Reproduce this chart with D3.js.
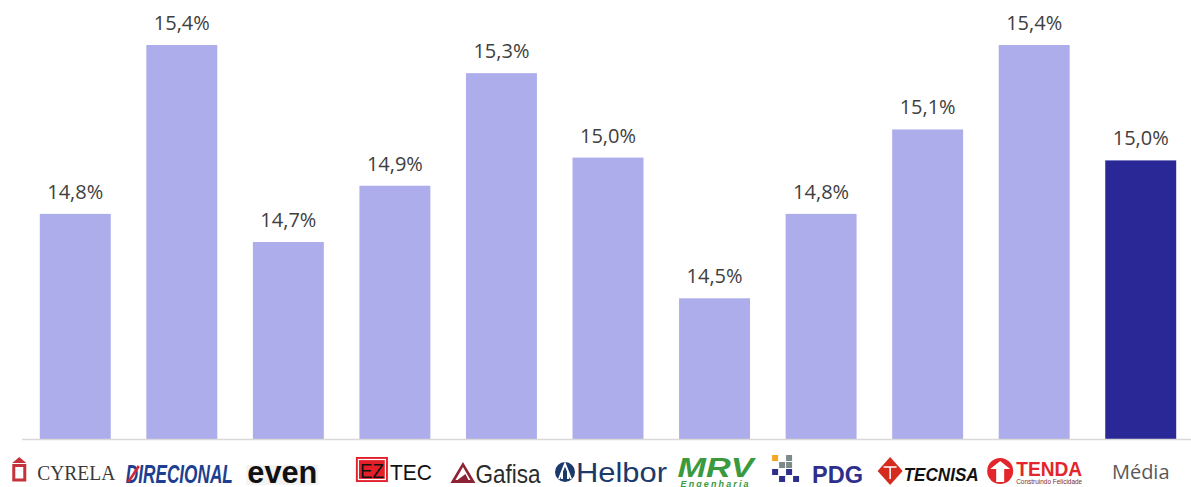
<!DOCTYPE html>
<html>
<head>
<meta charset="utf-8">
<script src="https://cdn.jsdelivr.net/npm/d3@7"></script>
<style>
  html, body { margin: 0; padding: 0; background: #fff; }
  svg { display: block; }
</style>
</head>
<body>
<div id="chart"></div>
<script>
// Data
const categories = ["Cyrela", "Direcional", "Even", "EZTec", "Gafisa", "Helbor", "MRV", "PDG", "Tecnisa", "Tenda", "Média"];
const values = [14.8, 15.4, 14.7, 14.9, 15.3, 15.0, 14.5, 14.8, 15.1, 15.4, 14.99];
const highlight = ["Média"];

const width = 1191;
const height = 487;

const svg = d3.select("#chart")
    .append("svg")
    .attr("width", width)
    .attr("height", height);

// Scales (axis starts at 14%, not zero)
const x = d3.scaleBand()
    .domain(categories)
    .range([22, 1194])
    .paddingInner(0.334)
    .paddingOuter(0.167);

const y = d3.scaleLinear()
    .domain([14, 15.56])
    .range([439, 0]);

const fmt = v => d3.format(".1f")(v).replace(".", ",") + "%";

// Bars
svg.selectAll("rect.bar")
    .data(values)
    .enter()
    .append("rect")
    .attr("class", "bar")
    .attr("x", (d, i) => x(categories[i]))
    .attr("width", x.bandwidth())
    .attr("y", d => y(d))
    .attr("height", d => y(14) - y(d))
    .attr("fill", (d, i) => highlight.includes(categories[i]) ? "#2A2896" : "#ADADEB");

// Value labels
svg.selectAll("text.val")
    .data(values)
    .enter()
    .append("text")
    .attr("class", "val")
    .attr("x", (d, i) => x(categories[i]) + x.bandwidth() / 2)
    .attr("y", d => y(d) - 15)
    .attr("text-anchor", "middle")
    .style("font-family", "'Open Sans', sans-serif")
    .style("font-size", "20px")
    .attr("fill", "#404040")
    .text(d => fmt(d));

// Axis line
svg.append("line")
    .attr("x1", 22).attr("x2", width)
    .attr("y1", 439.5).attr("y2", 439.5)
    .attr("stroke", "#D9D9D9")
    .attr("stroke-width", 1.5);

// Category "logos" drawn as simple shapes + text
const logos = {
    "Cyrela": g => {
        g.append("path").attr("d", "M-63,463 L-56,457 L-49,463 Z").attr("fill", "#C7323A");
        g.append("rect").attr("x", -61.5).attr("y", 465.5).attr("width", 11).attr("height", 14.5)
            .attr("fill", "none").attr("stroke", "#C7323A").attr("stroke-width", 3);
        g.append("text").attr("x", -38).attr("y", 480)
            .style("font-family", "'Liberation Serif', serif").style("font-size", "20px")
            .attr("fill", "#3a3a3a").attr("textLength", 78).attr("lengthAdjust", "spacingAndGlyphs")
            .text("CYRELA");
    },
    "Direcional": g => {
        g.append("text").attr("x", -56).attr("y", 483)
            .style("font-family", "'Liberation Sans', sans-serif").style("font-size", "25px")
            .style("font-weight", "bold").style("font-style", "italic")
            .attr("fill", "#1E3F8F").attr("textLength", 107).attr("lengthAdjust", "spacingAndGlyphs")
            .text("DIRECIONAL");
        g.append("path").attr("d", "M-55,482 L-44,465 L-42,467 L-52,482 Z").attr("fill", "#D3283A");
    },
    "Even": g => {
        g.append("rect").attr("x", -42).attr("y", 465).attr("width", 72).attr("height", 20).attr("fill", "#F3F3F3");
        g.append("text").attr("x", -41).attr("y", 483)
            .style("font-family", "'Liberation Sans', sans-serif").style("font-size", "32px")
            .style("font-weight", "bold")
            .attr("fill", "#111").attr("textLength", 70).attr("lengthAdjust", "spacingAndGlyphs")
            .text("even");
    },
    "EZTec": g => {
        g.append("rect").attr("x", -39).attr("y", 457).attr("width", 32).attr("height", 25).attr("fill", "#E3202A");
        g.append("rect").attr("x", -36.5).attr("y", 459.5).attr("width", 27).attr("height", 20)
            .attr("fill", "#E3202A").attr("stroke", "#fff").attr("stroke-width", 1.2);
        g.append("text").attr("x", -35).attr("y", 478)
            .style("font-family", "'Liberation Sans', sans-serif").style("font-size", "21px")
            .attr("fill", "#111").attr("textLength", 24).attr("lengthAdjust", "spacingAndGlyphs")
            .text("EZ");
        g.append("text").attr("x", -5).attr("y", 480)
            .style("font-family", "'Liberation Sans', sans-serif").style("font-size", "22px")
            .attr("fill", "#111").attr("textLength", 42).attr("lengthAdjust", "spacingAndGlyphs")
            .text("TEC");
    },
    "Gafisa": g => {
        g.append("path").attr("d", "M-51,483 L-38.5,462 L-26,483 Z M-46,480 L-31,480 L-38.5,467 Z")
            .attr("fill", "#8E2236").attr("fill-rule", "evenodd");
        g.append("path").attr("d", "M-44,480 L-36,474 L-33,480 Z").attr("fill", "#8E2236");
        g.append("text").attr("x", -26).attr("y", 483)
            .style("font-family", "'Liberation Sans', sans-serif").style("font-size", "26px")
            .attr("fill", "#2b2b2b").attr("textLength", 65).attr("lengthAdjust", "spacingAndGlyphs")
            .text("Gafisa");
    },
    "Helbor": g => {
        g.append("circle").attr("cx", -43).attr("cy", 472).attr("r", 10).attr("fill", "#1B3A6B");
        g.append("path").attr("d", "M-49,479 L-43,464 L-37,479 M-46,479 L-46,472 M-40,479 L-40,472")
            .attr("stroke", "#fff").attr("stroke-width", 2).attr("fill", "none");
        g.append("text").attr("x", -32).attr("y", 482)
            .style("font-family", "'Liberation Sans', sans-serif").style("font-size", "28px")
            .attr("fill", "#1B3A6B").attr("textLength", 91).attr("lengthAdjust", "spacingAndGlyphs")
            .text("Helbor");
    },
    "MRV": g => {
        g.append("text").attr("x", -37).attr("y", 477)
            .style("font-family", "'Liberation Sans', sans-serif").style("font-size", "27px")
            .style("font-weight", "bold").style("font-style", "italic")
            .attr("fill", "#3A9A3E").attr("textLength", 76).attr("lengthAdjust", "spacingAndGlyphs")
            .text("MRV");
        g.append("text").attr("x", -34).attr("y", 487)
            .style("font-family", "'Liberation Sans', sans-serif").style("font-size", "9px")
            .style("font-weight", "bold").style("font-style", "italic")
            .attr("fill", "#3A9A3E").attr("textLength", 68).attr("lengthAdjust", "spacing")
            .text("Engenharia");
    },
    "PDG": g => {
        const cells = [[0, 0, "#F5A623"], [2, 0, "#7C8A8A"], [1, 1, "#7C8A8A"], [2, 1, "#7C8A8A"],
                       [0, 2, "#2E2F8C"], [2, 2, "#2E2F8C"], [1, 3, "#2E2F8C"], [3, 3, "#2E2F8C"]];
        g.selectAll("rect.cell").data(cells).enter().append("rect")
            .attr("x", d => -49 + d[0] * 7).attr("y", d => 455 + d[1] * 7)
            .attr("width", 6).attr("height", 6).attr("fill", d => d[2]);
        g.append("text").attr("x", -9).attr("y", 483)
            .style("font-family", "'Liberation Sans', sans-serif").style("font-size", "24px")
            .style("font-weight", "bold")
            .attr("fill", "#2E2F8C").attr("textLength", 51).attr("lengthAdjust", "spacingAndGlyphs")
            .text("PDG");
    },
    "Tecnisa": g => {
        g.append("path").attr("d", "M-50,471 L-37.5,457 L-25,471 L-37.5,485 Z").attr("fill", "#D52B1E");
        g.append("path").attr("d", "M-44,467 L-31,467 M-37.5,467 L-37.5,479")
            .attr("stroke", "#fff").attr("stroke-width", 1.5).attr("fill", "none");
        g.append("text").attr("x", -24).attr("y", 481)
            .style("font-family", "'Liberation Sans', sans-serif").style("font-size", "19px")
            .style("font-style", "italic").style("font-weight", "bold")
            .attr("fill", "#111").attr("textLength", 75).attr("lengthAdjust", "spacingAndGlyphs")
            .text("TECNISA");
    },
    "Tenda": g => {
        g.append("circle").attr("cx", -34).attr("cy", 471).attr("r", 13).attr("fill", "#E3262C");
        g.append("path").attr("d", "M-44,469 L-34,461 L-24,469 Z").attr("fill", "#fff");
        g.append("rect").attr("x", -38).attr("y", 469).attr("width", 8).attr("height", 13).attr("fill", "#fff");
        g.append("text").attr("x", -18).attr("y", 476)
            .style("font-family", "'Liberation Sans', sans-serif").style("font-size", "21px")
            .style("font-weight", "bold")
            .attr("fill", "#E3262C").attr("textLength", 66).attr("lengthAdjust", "spacingAndGlyphs")
            .text("TENDA");
        g.append("text").attr("x", -18).attr("y", 484)
            .style("font-family", "'Liberation Sans', sans-serif").style("font-size", "7px")
            .attr("fill", "#7a3030").attr("textLength", 66).attr("lengthAdjust", "spacingAndGlyphs")
            .text("Construindo Felicidade");
    },
    "Média": g => {
        g.append("text").attr("x", 0).attr("y", 479)
            .attr("text-anchor", "middle")
            .style("font-family", "'Open Sans', sans-serif").style("font-size", "20px")
            .attr("fill", "#595959")
            .text("Média");
    }
};

categories.forEach(c => {
    const g = svg.append("g")
        .attr("transform", `translate(${x(c) + x.bandwidth() / 2}, 0)`);
    logos[c](g);
});
</script>
</body>
</html>
